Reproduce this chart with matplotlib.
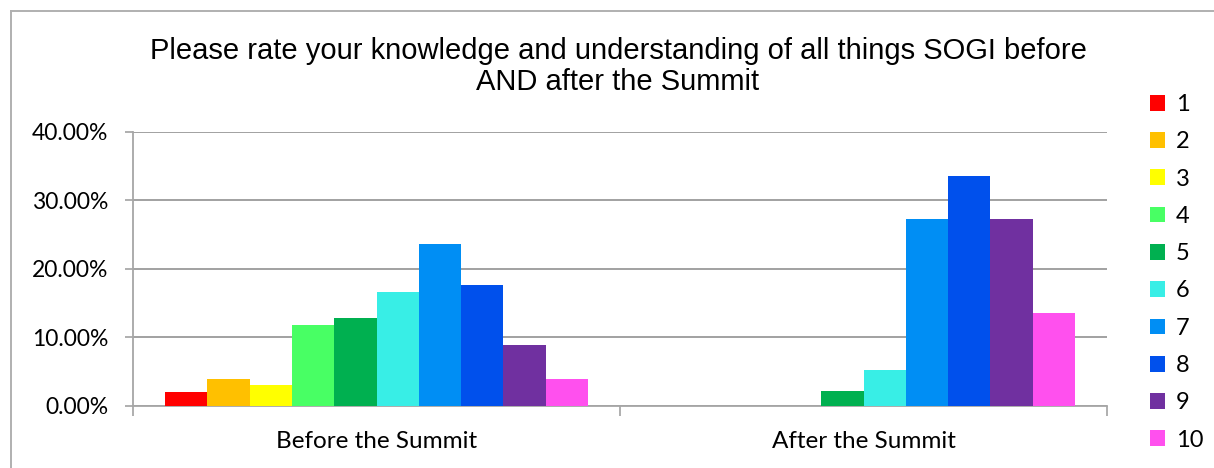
import matplotlib
matplotlib.use("Agg")
import matplotlib.pyplot as plt
import numpy as np
from matplotlib.patches import Patch
from matplotlib.lines import Line2D
from matplotlib.ticker import FuncFormatter, FixedLocator

categories = ["Before the Summit", "After the Summit"]
ratings = ["1", "2", "3", "4", "5", "6", "7", "8", "9", "10"]
before = [2.0, 3.9, 2.95, 11.8, 12.75, 16.65, 23.6, 17.6, 8.85, 3.9]
after = [0.0, 0.0, 0.0, 0.0, 2.1, 5.2, 27.3, 33.6, 27.3, 13.6]
colors = ["#FF0000", "#FFC000", "#FFFF00", "#48FF64", "#00B050",
          "#38EEE6", "#008EF4", "#0050EC", "#7030A0", "#FF50EE"]
title = "Please rate your knowledge and understanding of all things SOGI before\nAND after the Summit"

W, H = 1214, 468
fig = plt.figure(figsize=(W / 100, H / 100), dpi=100)
fig.patch.set_facecolor("white")

ax = fig.add_axes([133 / W, (H - 405.5) / H, (1107 - 133) / W, (405.5 - 132) / H])

n = len(ratings)
group_w = 0.869
bw = group_w / n
x = np.arange(len(categories))
for i in range(n):
    vals = [before[i], after[i]]
    ax.bar(x - group_w / 2 + bw * (i + 0.5), vals, width=bw, color=colors[i],
           edgecolor="none", zorder=3, label=ratings[i])

ax.set_xlim(-0.5, len(categories) - 0.5)
ax.set_ylim(0, 40)
ax.set_yticks([0, 10, 20, 30, 40])
ax.yaxis.set_major_formatter(FuncFormatter(lambda v, p: f"{v:.2f}%"))
ax.grid(axis="y", color="#888888", linewidth=1.1, zorder=0)
ax.set_axisbelow(True)

ax.xaxis.set_major_locator(FixedLocator([-0.5, 0.5, 1.5]))
ax.xaxis.set_major_formatter(FuncFormatter(lambda v, p: ""))
ax.xaxis.set_minor_locator(FixedLocator(list(x)))
ax.set_xticklabels(categories, minor=True)
ax.tick_params(axis="x", which="major", length=7, width=1.1, color="#9a9a9a", direction="out")
ax.tick_params(axis="x", which="minor", length=0, pad=18)
ax.tick_params(axis="y", length=6, width=1.1, color="#9a9a9a", pad=12)

for lab in ax.get_xticklabels(minor=True):
    lab.set_fontfamily("Lato")
    lab.set_fontsize(17.5)
    lab.set_color("#000000")
for lab in ax.get_yticklabels():
    lab.set_fontfamily("Lato")
    lab.set_fontsize(16.5)
    lab.set_color("#000000")

for s in ["top", "right"]:
    ax.spines[s].set_visible(False)
for s in ["left", "bottom"]:
    ax.spines[s].set_color("#a6a6a6")
    ax.spines[s].set_linewidth(1.3)

fig.text(618 / W, (H - 66.5) / H, title, ha="center", va="center",
         fontsize=21, family="Liberation Sans", linespacing=1.18)

handles = [Patch(facecolor=c, edgecolor="none") for c in colors]
fig.legend(handles, ratings, loc="upper left", bbox_to_anchor=(1150 / W, (H - 94) / H),
           frameon=False, prop={"family": "Lato", "size": 17},
           handlelength=0.65, handleheight=0.65, handletextpad=0.45,
           labelspacing=0.69, borderaxespad=0, borderpad=0)

# outer chart border
fig.add_artist(Line2D([11 / W, 1], [1 - 11 / H, 1 - 11 / H], transform=fig.transFigure,
                      color="#b0b0b0", linewidth=1.4))
fig.add_artist(Line2D([11 / W, 11 / W], [0, 1 - 11 / H], transform=fig.transFigure,
                      color="#b0b0b0", linewidth=1.4))

fig.savefig("out.png", dpi=100)
